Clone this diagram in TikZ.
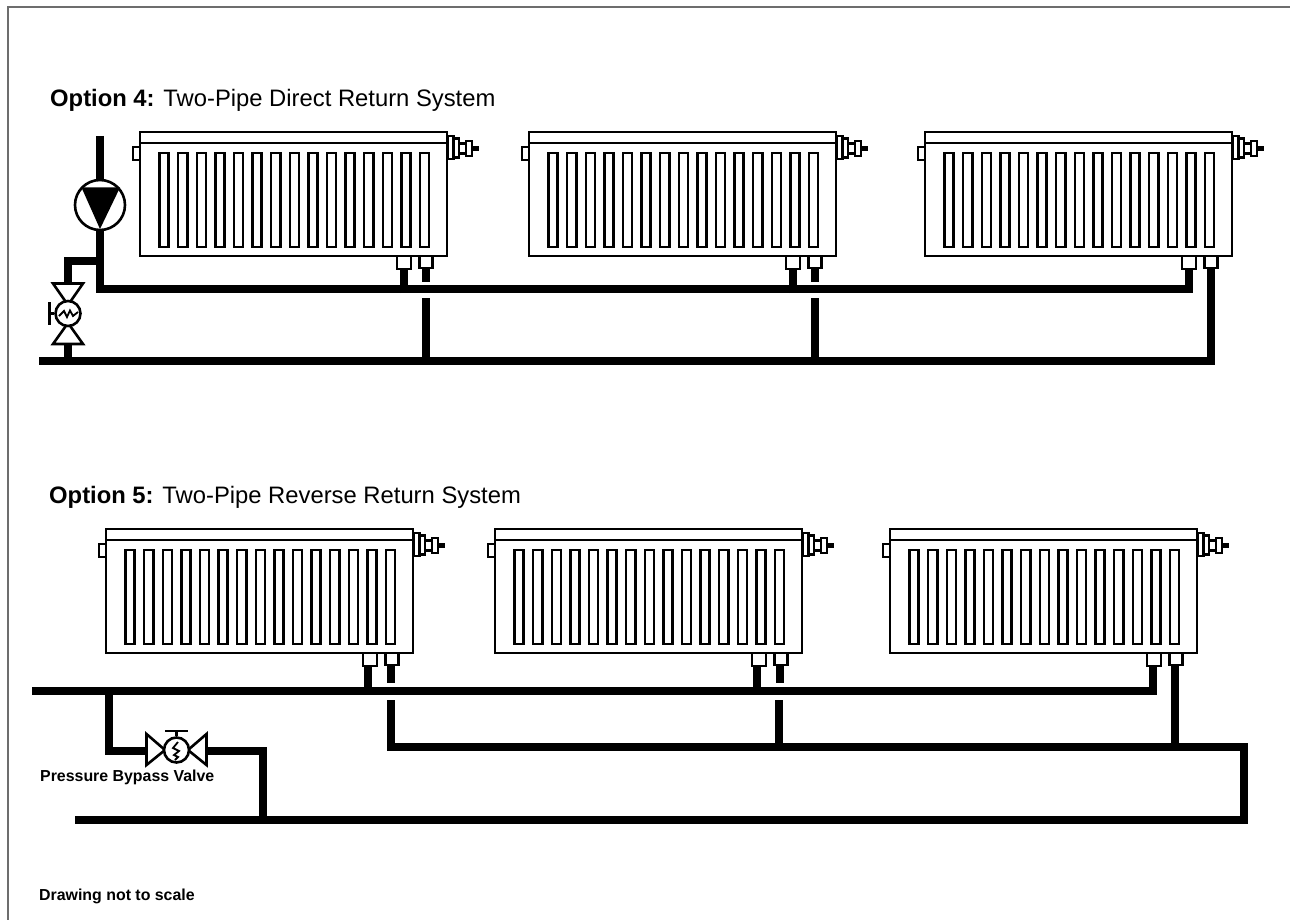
\documentclass[tikz,border=0pt]{standalone}
\usepackage{fontspec}
\setmainfont{Liberation Sans}
\definecolor{framegray}{HTML}{6D6D6D}
\tikzset{
  pipe/.style={line width=8pt,line cap=butt,line join=miter,black},
  thin part/.style={line width=2.6pt,draw=black,fill=white,line join=miter},
  title text/.style={anchor=base west,inner sep=0pt,font=\fontsize{23.8}{26}\selectfont},
  small text/.style={anchor=base west,inner sep=0pt,font=\fontsize{15.9}{18}\selectfont\bfseries},
  radiator/.pic={
    % coordinates relative to radiator's top-left corner
    \draw[thin part] (-7,15) rectangle (0,28);
    \draw[thin part] (0,0) rectangle (307,124);
    \draw[thin part] (0,11) -- (307,11);
    \foreach \i in {0,...,14}{
      \fill[black] ({18.3+\i*18.6},19.7) rectangle ++(11.6,96.6);
      \fill[white] ({20.8+\i*18.6},22.2) rectangle ++(6.6,91.6);
    }
    \draw[thin part] (257,124) rectangle ++(14,13);
    \draw[thin part] (279.5,124) rectangle ++(13,12);
    \draw[thin part] (307.5,4) rectangle ++(6,23);
    \draw[thin part] (313.5,6.5) rectangle ++(5.5,19);
    \draw[thin part] (319,11.5) rectangle ++(7,10);
    \draw[thin part] (326,9) rectangle ++(6,15);
    \fill[black] (332,14) rectangle ++(7,5);
  }
}
\begin{document}
\begin{tikzpicture}[x=1pt,y=-1pt]
\useasboundingbox (0,0) rectangle (1290,920);
\draw[line width=2pt,draw=framegray] (8,920) -- (8,7) -- (1290,7);

\node[title text] (t4) at (50,106.7) {\textbf{Option 4:} Two-Pipe Direct Return System};
\node[title text] (t5) at (49,503.3) {\textbf{Option 5:} Two-Pipe Reverse Return System};
\node[small text] (pbv) at (40,781.7) {Pressure Bypass Valve};
\node[small text] (dnts) at (39,900.7) {Drawing not to scale};

% ---- Option 4 pipes ----
\coordinate (p4top) at (100,136);
\coordinate (p4corner) at (100,289);
\coordinate (p4end) at (1188.5,289);
\coordinate (p4endup) at (1188.5,268);
\coordinate (v4a) at (68,283);
\coordinate (v4b) at (68,344);
\coordinate (r4start) at (39,360.5);
\coordinate (r4corner) at (1210.5,360.5);
\coordinate (r4up) at (1210.5,268);
\draw[pipe] (p4top) -- (p4corner) -- (p4end) -- (p4endup);
\draw[pipe] (100,261) -| (v4a);
\draw[pipe] (v4b) -- (68,360);
\draw[pipe] (r4start) -- (r4corner) -- (r4up);
\draw[pipe] (404,293) -- (404,268);
\draw[pipe] (793,293) -- (793,268);
\draw[pipe] (426,268) -- (426,282);
\draw[pipe] (815,268) -- (815,282);
\draw[pipe] (426,298) -- (426,360);
\draw[pipe] (815,298) -- (815,360);

% pump
\node[circle,draw=black,fill=white,line width=2.6pt,minimum size=50pt,inner sep=0pt] (pump) at (100,205) {};
\fill[black] (81.5,187.5) -- (120,187.5) -- (100,229) -- cycle;

% option 4 valve
\draw[thin part] (53,283.5) -- (83,283.5) -- (68,305) -- cycle;
\draw[thin part] (53,344) -- (83,344) -- (68,323) -- cycle;
\node[circle,draw=black,fill=white,line width=2.6pt,minimum size=25pt,inner sep=0pt] (v4c) at (68,313.5) {};
\draw[line width=2.4pt] (49.5,302) -- (49.5,325);
\draw[line width=2.4pt] (49.5,313.5) -- (v4c.west);
\draw[line width=1.8pt,line join=miter] (59,316) -- (64,311) -- (67,317) -- (70,310.5) -- (73,316) -- (78,312);

% ---- Option 5 pipes ----
\coordinate (s5start) at (32,690.5);
\coordinate (s5end) at (1153,690.5);
\coordinate (s5up) at (1153,665);
\draw[pipe] (s5start) -- (1157,690.5) ;
\draw[pipe] (s5end) -- (s5up);
\draw[pipe] (368,690) -- (368,665);
\draw[pipe] (757,690) -- (757,665);
\draw[pipe] (391,665) -- (391,683);
\draw[pipe] (780,665) -- (780,683);
\draw[pipe] (108.5,690) |- (147,750.5);
\draw[pipe] (206,750.5) -| (263,819);
\coordinate (r5start) at (75,819.5);
\coordinate (r5corner) at (1244,819.5);
\coordinate (r5top) at (1244,746.5);
\coordinate (r5left) at (390.5,746.5);
\coordinate (r5drop) at (390.5,700);
\draw[pipe] (r5start) -- (r5corner) -- (r5top) -- (r5left) -- (r5drop);
\draw[pipe] (779,700) -- (779,746);
\draw[pipe] (1175,665) -- (1175,746);

% bypass valve
\draw[thin part] (146.5,734) -- (146.5,765) -- (165,750) -- cycle;
\draw[thin part] (206.5,734) -- (206.5,765) -- (188,750) -- cycle;
\node[circle,draw=black,fill=white,line width=2.6pt,minimum size=25pt,inner sep=0pt] (v5c) at (176.5,750) {};
\draw[line width=2.4pt] (165,731) -- (188,731);
\draw[line width=2.4pt] (176.5,731) -- (v5c.north);
\draw[line width=1.8pt,line join=miter] (178,742) -- (173,748) -- (179,751) -- (174,755) -- (178,757) -- (175,760);

% ---- Radiators ----
\foreach \x/\y in {140/132,529/132,925/132,106/529,495/529,890/529}{
  \pic at (\x,\y) {radiator};
}
\end{tikzpicture}
\end{document}
